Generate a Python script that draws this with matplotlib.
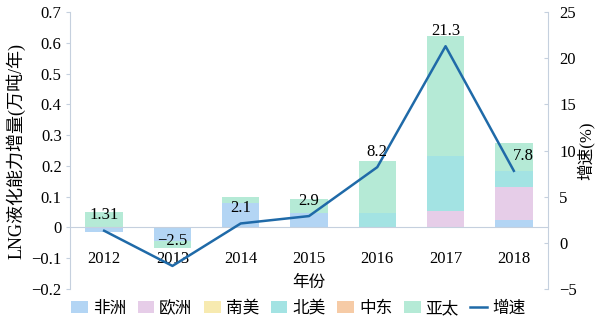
import numpy as np
import matplotlib
matplotlib.use('Agg')
import matplotlib.pyplot as plt
from matplotlib.patches import Patch
from matplotlib.lines import Line2D

plt.rcParams['font.family'] = ['Liberation Serif', 'Noto Sans CJK SC', 'DejaVu Sans']
plt.rcParams['axes.unicode_minus'] = True

years = ['2012', '2013', '2014', '2015', '2016', '2017', '2018']

# capacity increase by region (10k t/yr)
africa = [-0.015, -0.045, 0.08, 0.048, 0.0, 0.0, 0.025]
europe = [0.0, 0.0, 0.0, 0.0, 0.0, 0.053, 0.106]
s_america = [0.0, 0.0, 0.0, 0.0, 0.0, 0.0, 0.0]
n_america = [0.0, 0.0, 0.0, 0.0, 0.047, 0.18, 0.052]
mideast = [0.0, 0.0, 0.0, 0.0, 0.0, 0.0, 0.0]
asia_pac = [0.05, -0.023, 0.02, 0.045, 0.17, 0.39, 0.091]

# growth rate (%)
growth = [1.31, -2.5, 2.1, 2.9, 8.2, 21.3, 7.8]

series = [('非洲', africa, '#b3d5f4'),
          ('欧洲', europe, '#e6cde8'),
          ('南美', s_america, '#f7eab0'),
          ('北美', n_america, '#a3e3e3'),
          ('中东', mideast, '#f6cba6'),
          ('亚太', asia_pac, '#b5ead6')]

axis_col = '#c5d0de'
line_col = '#1f6aa8'

fig = plt.figure(figsize=(6, 3.26), dpi=100)
ax = fig.add_axes([0.1167, 0.1135, 0.7966, 0.8495])
x = np.arange(len(years))

pos_base = np.zeros(len(years))
neg_base = np.zeros(len(years))
for name, vals, col in series:
    v = np.array(vals)
    bottom = np.where(v >= 0, pos_base, neg_base)
    ax.bar(x, v, 0.55, bottom=bottom, color=col, linewidth=0)
    pos_base = pos_base + np.where(v > 0, v, 0)
    neg_base = neg_base + np.where(v < 0, v, 0)

ax.set_xlim(-0.5, 6.5)
ax.set_ylim(-0.2, 0.7)
ax.set_yticks(np.arange(-0.2, 0.71, 0.1))
ax.set_yticklabels(['−0.2', '−0.1', '0', '0.1', '0.2', '0.3', '0.4', '0.5', '0.6', '0.7'])
ax.set_xticks(x)
ax.set_xticklabels(years)
ax.spines['top'].set_visible(False)
ax.spines['right'].set_visible(False)
ax.spines['bottom'].set_position(('data', 0))
ax.spines['bottom'].set_color(axis_col)
ax.spines['left'].set_color(axis_col)
ax.tick_params(axis='x', length=0, pad=17, labelsize=12)
ax.tick_params(axis='y', length=3, color=axis_col, labelsize=12, pad=3)
ax.set_ylabel('LNG液化能力增量(万吨/年)', fontsize=13, labelpad=4)
ax.text(0.5, 0.022, '年份', transform=ax.transAxes, ha='center', va='center', fontsize=12)

ax2 = ax.twinx()
ax2.plot(x, growth, color=line_col, lw=1.8)
ax2.set_ylim(-5, 25)
ax2.set_yticks(np.arange(-5, 26, 5))
ax2.set_yticklabels(['−5', '0', '5', '10', '15', '20', '25'])
ax2.spines['top'].set_visible(False)
ax2.spines['left'].set_visible(False)
ax2.spines['bottom'].set_visible(False)
ax2.spines['right'].set_color(axis_col)
ax2.tick_params(axis='y', direction='in', length=3, color=axis_col, labelsize=12, pad=8)
ax2.set_ylabel('增速(%)', fontsize=12, labelpad=0)

for i, g in enumerate(growth):
    dx, dy = 0, 11
    if i == 1:
        dy = 18
    if i == 6:
        dx = 7
    ax2.annotate(f'{g:g}'.replace('-', '−'), (x[i], g), xytext=(dx, dy),
                 textcoords='offset points', ha='center', va='center', fontsize=12)

handles = [Patch(facecolor=c, edgecolor='none') for _, _, c in series]
handles.append(Line2D([0], [0], color=line_col, lw=1.8))
labels = [n for n, _, _ in series] + ['增速']
fig.legend(handles, labels, loc='center', bbox_to_anchor=(0.497, 0.052), ncol=7,
           frameon=False, fontsize=12, handlelength=1.0, handletextpad=0.3,
           columnspacing=0.7, borderaxespad=0)

fig.savefig('out.png', dpi=100)
